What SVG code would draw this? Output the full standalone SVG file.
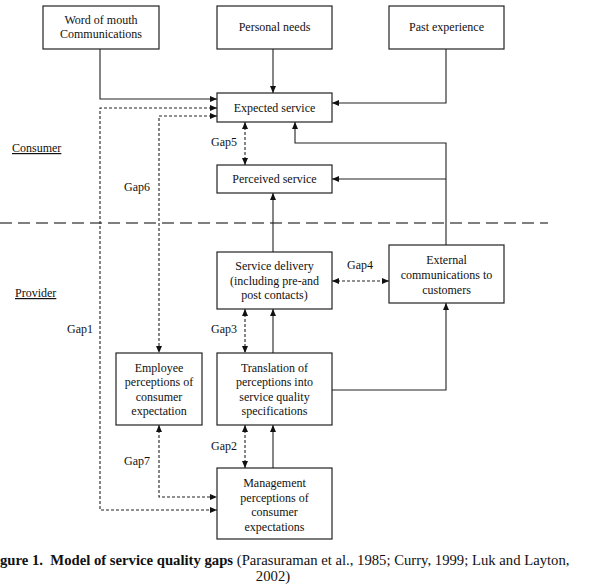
<svg xmlns="http://www.w3.org/2000/svg" width="589" height="584" viewBox="0 0 589 584">
<defs>
<marker id="ah" markerWidth="7" markerHeight="6" refX="7" refY="3" orient="auto-start-reverse" markerUnits="userSpaceOnUse">
<path d="M0,0 L7,3 L0,6 z" fill="#111"/>
</marker>
<style>
.box{fill:#fff;stroke:#222;stroke-width:1.2}
.t{font-family:"Liberation Serif","Times New Roman",serif;font-size:12px;fill:#111;text-anchor:middle}
.lbl{font-family:"Liberation Serif","Times New Roman",serif;font-size:12px;fill:#111}
.c{fill:none;stroke:#222;stroke-width:1.1}
.d{fill:none;stroke:#222;stroke-width:1.1;stroke-dasharray:3,2}
.cap{font-family:"Liberation Serif","Times New Roman",serif;font-size:14.7px;fill:#111;white-space:pre}
</style>
</defs>
<rect width="589" height="584" fill="#fff"/>
<line x1="0" y1="223" x2="548" y2="223" stroke="#555" stroke-width="1.5" stroke-dasharray="12,6"/>
<g id="connectors">
<path class="c" d="M100,49 V99 H217" marker-end="url(#ah)"/>
<path class="c" d="M273,49 V93" marker-end="url(#ah)"/>
<path class="c" d="M446,49 V103 H332" marker-end="url(#ah)"/>
<path class="c" d="M446,245 V143 H295 V122" marker-end="url(#ah)"/>
<path class="c" d="M446,179 H332" marker-end="url(#ah)"/>
<path class="c" d="M273,252 V193" marker-end="url(#ah)"/>
<path class="c" d="M273,353 V309" marker-end="url(#ah)"/>
<path class="c" d="M273,468 V425" marker-end="url(#ah)"/>
<path class="c" d="M332,390 H446 V303" marker-end="url(#ah)"/>
<path class="d" d="M245,122 V165" marker-start="url(#ah)" marker-end="url(#ah)"/>
<path class="d" d="M245,309 V353" marker-start="url(#ah)" marker-end="url(#ah)"/>
<path class="d" d="M245,425 V468" marker-start="url(#ah)" marker-end="url(#ah)"/>
<path class="d" d="M332,281 H389" marker-start="url(#ah)" marker-end="url(#ah)"/>
<path class="d" d="M217,116 H159 V353" marker-start="url(#ah)" marker-end="url(#ah)"/>
<path class="d" d="M217,108 H100 V510 H217" marker-start="url(#ah)" marker-end="url(#ah)"/>
<path class="d" d="M159,425 V497 H217" marker-start="url(#ah)" marker-end="url(#ah)"/>
</g>
<g id="word-of-mouth">
<rect class="box" x="43" y="6" width="116" height="43"/>
<text class="t" x="101" y="24">Word of mouth</text>
<text class="t" x="101" y="38">Communications</text>
</g>
<g id="personal-needs">
<rect class="box" x="217" y="6" width="115" height="43"/>
<text class="t" x="274.5" y="31">Personal needs</text>
</g>
<g id="past-experience">
<rect class="box" x="389" y="6" width="115" height="43"/>
<text class="t" x="446.5" y="31">Past experience</text>
</g>
<g id="expected-service">
<rect class="box" x="217" y="93" width="115" height="29"/>
<text class="t" x="274.5" y="111.5">Expected service</text>
</g>
<g id="perceived-service">
<rect class="box" x="217" y="165" width="115" height="28"/>
<text class="t" x="274.5" y="183">Perceived service</text>
</g>
<g id="service-delivery">
<rect class="box" x="217" y="252" width="115" height="57"/>
<text class="t" x="274.5" y="269.5">Service delivery</text>
<text class="t" x="274.5" y="284.5">(including pre-and</text>
<text class="t" x="274.5" y="299">post contacts)</text>
</g>
<g id="external-communications">
<rect class="box" x="389" y="245" width="115" height="58"/>
<text class="t" x="446.5" y="264">External</text>
<text class="t" x="446.5" y="279">communications to</text>
<text class="t" x="446.5" y="293.5">customers</text>
</g>
<g id="employee-perceptions">
<rect class="box" x="116" y="353" width="86" height="72"/>
<text class="t" x="159" y="371.5">Employee</text>
<text class="t" x="159" y="386">perceptions of</text>
<text class="t" x="159" y="400.5">consumer</text>
<text class="t" x="159" y="415">expectation</text>
</g>
<g id="translation">
<rect class="box" x="217" y="353" width="115" height="72"/>
<text class="t" x="274.5" y="371.5">Translation of</text>
<text class="t" x="274.5" y="386">perceptions into</text>
<text class="t" x="274.5" y="400.5">service quality</text>
<text class="t" x="274.5" y="415">specifications</text>
</g>
<g id="management-perceptions">
<rect class="box" x="217" y="468" width="115" height="71"/>
<text class="t" x="274.5" y="487">Management</text>
<text class="t" x="274.5" y="501.5">perceptions of</text>
<text class="t" x="274.5" y="516">consumer</text>
<text class="t" x="274.5" y="530.5">expectations</text>
</g>
<g id="labels">
<text class="lbl" x="12" y="152" text-decoration="underline">Consumer</text>
<text class="lbl" x="15" y="297" text-decoration="underline">Provider</text>
<text class="lbl" x="211" y="146">Gap5</text>
<text class="lbl" x="124" y="191">Gap6</text>
<text class="lbl" x="67" y="333">Gap1</text>
<text class="lbl" x="211" y="333">Gap3</text>
<text class="lbl" x="347" y="269">Gap4</text>
<text class="lbl" x="211" y="450">Gap2</text>
<text class="lbl" x="124" y="465">Gap7</text>
</g>
<g id="caption">
<text class="cap" x="0" y="565" xml:space="preserve"><tspan font-weight="bold">gure 1.  Model of service quality gaps</tspan> (Parasuraman et al., 1985; Curry, 1999; Luk and Layton,</text>
<text class="cap" x="273" y="581" text-anchor="middle">2002)</text>
</g>
</svg>
